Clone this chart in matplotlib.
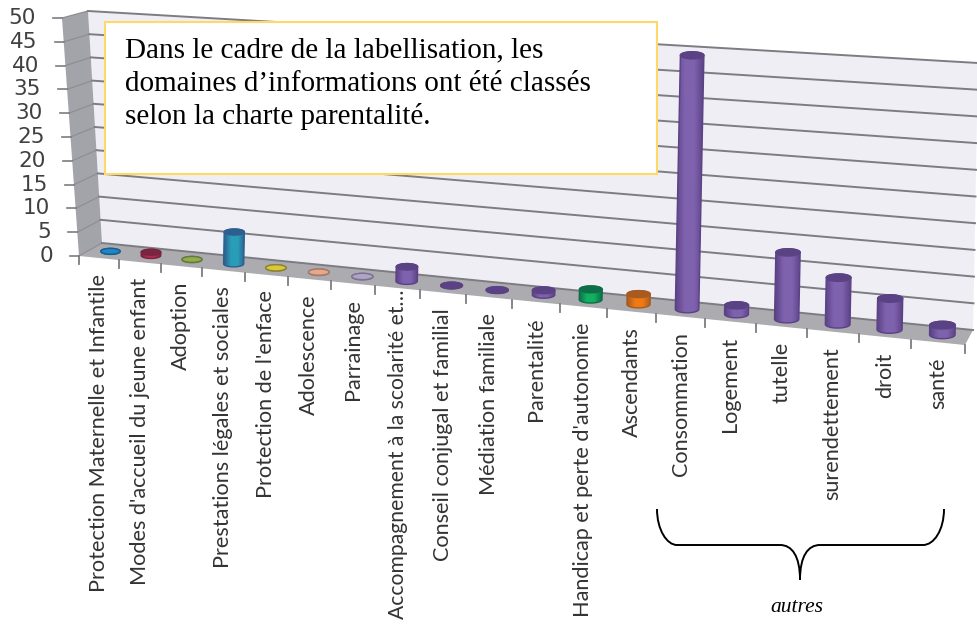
import numpy as np
import matplotlib
matplotlib.use('Agg')
import matplotlib.pyplot as plt
from matplotlib.colors import LinearSegmentedColormap
from matplotlib.patches import PathPatch, Polygon, Rectangle
from matplotlib.path import Path

# Values
categories = ["Protection Maternelle et Infantile", "Modes d'accueil du jeune enfant", "Adoption",
              "Prestations légales et sociales", "Protection de l'enface", "Adolescence", "Parrainage",
              "Accompagnement à la scolarité et…", "Conseil conjugal et familial", "Médiation familiale",
              "Parentalité", "Handicap et perte d'autonomie", "Ascendants", "Consommation", "Logement",
              "tutelle", "surendettement", "droit", "santé"]
values = [0.05, 0.7, 0.05, 6.6, 0.05, 0.05, 0.05, 2.9, 0.05, 0.05, 0.9, 2.0, 2.0, 49, 1.7, 12.7, 8.8, 5.8, 1.8]
y_ticks = [0, 5, 10, 15, 20, 25, 30, 35, 40, 45, 50]

PURPLE = ('#7F62AE', '#5B4285')
colors = [('#1F86C8', '#1B5E8C'), ('#B02C50', '#7A2540'), ('#93AD4E', '#66783A'), ('#2A9DB8', '#2C5F8F'),
          ('#D8C83A', '#8C8430'), ('#E8A888', '#A07870'), ('#AFA3C6', '#7C7290'), PURPLE, PURPLE, PURPLE,
          PURPLE, ('#12B060', '#0E6E48'), ('#F07A14', '#A85A20'), PURPLE, PURPLE, PURPLE, PURPLE, PURPLE, PURPLE]

# Corners of the 3D box on the picture (front/back, left/right, floor/top)
FL0, BL0, FR0, BR0 = np.array([(79, 256), (102, 243), (965, 345), (973, 330)], float)
FL1, BL1, FR1, BR1 = np.array([(62, 18), (88, 11), (967, 71), (978, 63)], float)
N = len(categories)
YMAX = 50.0
PERSP = 1.16


def project(c, d, v):
    """category position c, depth d (0 front, 1 back), value v -> picture position"""
    t = c / (c + PERSP * (N - c))
    floor = (1 - t) * ((1 - d) * FL0 + d * BL0) + t * ((1 - d) * FR0 + d * BR0)
    top = (1 - t) * ((1 - d) * FL1 + d * BL1) + t * ((1 - d) * FR1 + d * BR1)
    return floor + (top - floor) * v / YMAX


def draw_cylinder(ax, i, value, face, dark):
    c = i + 0.5
    base = project(c, 0.5, 0)
    w = (project(c + 0.24, 0.5, 0)[0] - project(c - 0.24, 0.5, 0)[0]) / 2
    h = w * 0.3
    height = base[1] - project(c, 0.5, value)[1]
    top = np.array([base[0] + 0.02 * height, base[1] - height])

    ang = np.linspace(0, np.pi, 40)
    lower = np.c_[base[0] - w * np.cos(ang), base[1] + h * np.sin(ang)]
    upper = np.c_[top[0] + w * np.cos(ang), top[1] - h * np.sin(ang)]
    body = Polygon(np.r_[lower, upper], closed=True, fc='none', ec=dark, lw=1.0, zorder=5 + i * 0.01)
    ax.add_patch(body)

    cmap = LinearSegmentedColormap.from_list('c', [dark, face, face, dark])
    im = ax.imshow(np.linspace(0, 1, 64)[None, :], extent=[base[0] - w, top[0] + w, base[1] + h, top[1] - h],
                   cmap=cmap, aspect='auto', zorder=4.9 + i * 0.01)
    im.set_clip_path(body)

    ang = np.linspace(0, 2 * np.pi, 80)
    cap = np.c_[top[0] + w * np.cos(ang), top[1] + h * np.sin(ang)]
    fill = dark if (value > 0.5 or face == PURPLE[0]) else face
    ax.add_patch(Polygon(cap, closed=True, fc=fill, ec=dark, lw=1.0, zorder=5.001 + i * 0.01))


fig = plt.figure(figsize=(9.78, 6.24), dpi=100)
ax = fig.add_axes([0, 0, 1, 1])
ax.set_xlim(0, 978)
ax.set_ylim(624, 0)
ax.set_autoscale_on(False)
ax.axis('off')

# Walls and floor
ax.add_patch(Polygon([BL0, BL1, BR1, BR0], fc='#EFEEF5', ec='none', zorder=1))
ax.add_patch(Polygon([FL0, FL1, BL1, BL0], fc='#A3A3AA', ec='none', zorder=1))
ax.add_patch(Polygon([FL0, BL0, BR0, FR0], fc='#ABABB0', ec='none', zorder=1))

# Gridlines, value ticks and labels
for v in y_ticks:
    front = project(0, 0, v)
    back = project(0, 1, v)
    right = project(N, 1, v)
    ax.plot([front[0], back[0]], [front[1], back[1]], color='#8E8E94', lw=0.9, zorder=2)
    ax.plot([back[0], right[0]], [back[1], right[1]], color='#7C7C82', lw=1.4, zorder=2)
    ax.plot([front[0] - 9, front[0]], [front[1], front[1]], color='#7C7C82', lw=1.2, zorder=2)
    ax.text(front[0] - 26, front[1], str(v), ha='right', va='center', fontsize=15.5,
            family='DejaVu Sans', color='#404040')

# Category ticks and labels
for c in range(N + 1):
    p = project(c, 0, 0)
    ax.plot([p[0], p[0]], [p[1], p[1] + 8], color='#7C7C82', lw=1.3, zorder=2)
for i, label in enumerate(categories):
    p = project(i + 0.5, 0, 0)
    # the long truncated label starts higher and a bit smaller so that it stays inside the picture
    long_label = label.endswith('…')
    ax.text(p[0], 290 if long_label else p[1] + 15.5, label, rotation=90, ha='center', va='top',
            fontsize=15.2 if long_label else 15.6, family='Lato', color='#333333', zorder=3)

# Cylinders
for i, value in enumerate(values):
    draw_cylinder(ax, i, value, colors[i][0], colors[i][1])

# Text box over the chart
ax.add_patch(Rectangle((105, 22), 552, 152, fc='white', ec='#FFD966', lw=1.5, zorder=8))
ax.text(125, 50, "Dans le cadre de la labellisation, les", fontsize=21, family='Liberation Serif',
        color='black', va='center', zorder=9)
ax.text(125, 84, "domaines d’informations ont été classés", fontsize=21, family='Liberation Serif',
        color='black', va='center', zorder=9)
ax.text(125, 117, "selon la charte parentalité.", fontsize=21, family='Liberation Serif',
        color='black', va='center', zorder=9)

# Brace under the last categories
brace = Path([(657, 509), (657, 530), (667, 545), (677, 545), (780, 545), (792, 545), (800, 556), (800, 580),
              (800, 556), (808, 545), (820, 545), (923, 545), (934, 545), (944, 530), (944, 509)],
             [Path.MOVETO, Path.CURVE4, Path.CURVE4, Path.CURVE4, Path.LINETO, Path.CURVE4, Path.CURVE4, Path.CURVE4,
              Path.CURVE4, Path.CURVE4, Path.CURVE4, Path.LINETO, Path.CURVE4, Path.CURVE4, Path.CURVE4])
ax.add_patch(PathPatch(brace, fc='none', ec='black', lw=1.4, zorder=3))
ax.text(797, 607, "autres", fontsize=15.5, family='Liberation Serif', style='italic', ha='center', va='center')

fig.savefig('out.png', dpi=100)
